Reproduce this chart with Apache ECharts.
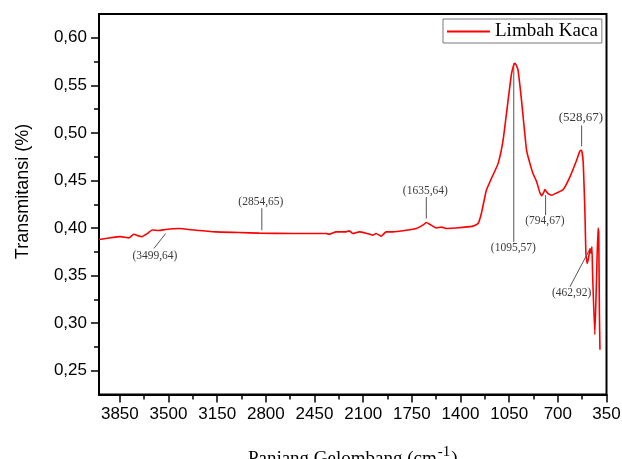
<!DOCTYPE html>
<html>
<head>
<meta charset="utf-8">
<script src="https://cdn.jsdelivr.net/npm/echarts@6/dist/echarts.min.js"></script>
<style>
html,body{margin:0;padding:0;background:#fff;}
#chart{width:622px;height:459px;}
</style>
</head>
<body>
<div id="chart"></div>
<script>
// ---- Data ----
const seriesName = 'Limbah Kaca';
const wavenumber = [
  4000, 3930, 3845, 3785, 3750, 3713, 3690, 3653, 3617, 3569, 3521, 3425, 3305, 3160,
  2992, 2848, 2600, 2367, 2343, 2295, 2223, 2199, 2175, 2127, 2079, 2031, 2007, 1971,
  1935, 1887, 1790, 1718, 1671, 1646, 1622, 1574, 1538, 1502, 1430, 1310, 1274, 1250,
  1214, 1178, 1130, 1094, 1058, 1033, 1018, 1010, 1000, 986, 961, 925, 901, 878, 853,
  829, 815, 800, 793, 780, 770, 745, 709, 661, 613, 565, 541, 529, 517, 505, 498, 488,
  478, 469, 462, 455, 450, 434, 422, 411, 406, 401, 397
];
const transmittance = [
  0.388, 0.3896, 0.391, 0.3896, 0.3935, 0.3917, 0.391, 0.3942, 0.398, 0.3974, 0.3985, 0.3995, 0.3977, 0.396,
  0.3953, 0.3946, 0.3942, 0.3942, 0.3935, 0.396, 0.396, 0.397, 0.3942, 0.396, 0.3946, 0.3925, 0.3942, 0.3914,
  0.396, 0.396, 0.3977, 0.3995, 0.403, 0.4058, 0.404, 0.400, 0.401, 0.3995, 0.400, 0.402, 0.4047, 0.4153,
  0.4397, 0.452, 0.4677, 0.4922, 0.534, 0.5622, 0.5712, 0.5733, 0.5715, 0.5657, 0.534, 0.4817, 0.468, 0.457, 0.449,
  0.437, 0.434, 0.438, 0.4404, 0.438, 0.4362, 0.4345, 0.4369, 0.4404, 0.4537, 0.4712, 0.481, 0.4817, 0.4677, 0.4152, 0.3733, 0.3627,
  0.3697, 0.3785, 0.3733, 0.3802, 0.352, 0.288, 0.345, 0.400, 0.396, 0.310, 0.272
];
const xTickValues = [350, 700, 1050, 1400, 1750, 2100, 2450, 2800, 3150, 3500, 3850];
const xMinorTickValues = [525, 875, 1225, 1575, 1925, 2275, 2625, 2975, 3325, 3675];
const yTickValues = [0.25, 0.30, 0.35, 0.40, 0.45, 0.50, 0.55, 0.60];
const yMinorTickValues = [0.275, 0.325, 0.375, 0.425, 0.475, 0.525, 0.575];

// peak annotations: text, leader line start (x,y), leader line end (x,y), text centre (x,y) in data units
const peakLabels = ['(3499,64)', '(2854,65)', '(1635,64)', '(1095,57)', '(794,67)', '(528,67)', '(462,92)'];
const peakLineStartX = [3521, 2829, 1646, 1017, 788, 529, 474];
const peakLineStartY = [0.3942, 0.3977, 0.410, 0.5733, 0.4345, 0.4859, 0.3767];
const peakLineEndX = [3605, 2829, 1646, 1017, 788, 529, 613];
const peakLineEndY = [0.3785, 0.4208, 0.4327, 0.3854, 0.4135, 0.5079, 0.3382];
const peakTextX = [3598, 2836, 1653, 1020, 793, 534, 601];
const peakTextY = [0.3704, 0.4274, 0.4390, 0.3791, 0.4072, 0.516, 0.3319];

// ---- Build ----
const lineData = wavenumber.map((w, i) => [w, transmittance[i]]);
const annData = peakLabels.map((t, i) => [peakLineStartX[i], peakLineStartY[i], peakLineEndX[i], peakLineEndY[i], peakTextX[i], peakTextY[i]]);

const fmtY = v => v.toFixed(2).replace('.', ',');
const fmtX = v => String(Math.round(v));
const axisFont = 'Liberation Sans';
const serif = 'Liberation Serif';

const chart = echarts.init(document.getElementById('chart'), null, {renderer: 'canvas'});
chart.setOption({
  animation: false,
  backgroundColor: '#fff',
  grid: {
    left: 99, right: 15.5, top: 14, bottom: 64.5,
    show: true, borderColor: '#000', borderWidth: 2, backgroundColor: 'transparent',
    containLabel: false, outerBoundsMode: 'none'
  },
  legend: {
    data: [seriesName],
    left: 443, top: 19,
    orient: 'horizontal',
    backgroundColor: '#fff',
    borderColor: '#7a7a7a', borderWidth: 1, borderRadius: 0,
    padding: [3, 4, 2, 4],
    icon: 'rect', itemWidth: 43, itemHeight: 2,
    textStyle: {fontFamily: serif, fontSize: 19, color: '#000', padding: [0, 0, 0, 0]}
  },
  xAxis: [{
    type: 'value', min: 350, max: 4000, inverse: true, position: 'bottom',
    axisLine: {show: true, onZero: false, lineStyle: {color: '#000', width: 2}},
    axisTick: {show: true, customValues: xTickValues, length: 8, lineStyle: {color: '#000', width: 1.5}},
    axisLabel: {customValues: xTickValues, formatter: fmtX, fontFamily: axisFont, fontSize: 17, color: '#000', margin: 11},
    splitLine: {show: false},
    name: '{a|Panjang Gelombang (cm}{s|-1}{a|)}',
    nameLocation: 'middle', nameGap: 50,
    nameTextStyle: {
      rich: {
        a: {fontFamily: serif, fontSize: 19, color: '#000', lineHeight: 24, verticalAlign: 'bottom'},
        s: {fontFamily: serif, fontSize: 15, color: '#000', lineHeight: 24, verticalAlign: 'top', padding: [0, 1, 0, 1]}
      }
    }
  }, {
    type: 'value', min: 350, max: 4000, inverse: true, position: 'bottom',
    axisLine: {show: false},
    axisTick: {show: true, customValues: xMinorTickValues, length: 5, lineStyle: {color: '#000', width: 1.5}},
    axisLabel: {show: false},
    splitLine: {show: false}
  }],
  yAxis: [{
    type: 'value', min: 0.225, max: 0.625, position: 'left',
    axisLine: {show: true, onZero: false, lineStyle: {color: '#000', width: 2}},
    axisTick: {show: true, customValues: yTickValues, length: 8, lineStyle: {color: '#000', width: 1.5}},
    axisLabel: {customValues: yTickValues, formatter: fmtY, fontFamily: axisFont, fontSize: 17, color: '#000', margin: 12},
    splitLine: {show: false}
  }, {
    type: 'value', min: 0.225, max: 0.625, position: 'left',
    axisLine: {show: false},
    axisTick: {show: true, customValues: yMinorTickValues, length: 5, lineStyle: {color: '#000', width: 1.5}},
    axisLabel: {show: false},
    splitLine: {show: false}
  }],
  graphic: [{
    type: 'text', x: 23, y: 191.5, rotation: Math.PI / 2,
    style: {text: 'Transmitansi (%)', font: '18px "Liberation Sans"', fill: '#000', textAlign: 'center', textVerticalAlign: 'middle'}
  }],
  series: [{
    name: seriesName, type: 'line', xAxisIndex: 0, yAxisIndex: 0,
    data: lineData, showSymbol: false, symbol: 'none', smooth: 0.15,
    lineStyle: {color: '#ff0000', width: 1.6}, itemStyle: {color: '#ff0000'}, z: 3
  }, {
    name: 'annotations', type: 'custom', xAxisIndex: 0, yAxisIndex: 0,
    data: annData, z: 4, silent: true,
    renderItem: function (params, api) {
      const i = params.dataIndex;
      const p0 = api.coord([api.value(0), api.value(1)]);
      const p1 = api.coord([api.value(2), api.value(3)]);
      const pt = api.coord([api.value(4), api.value(5)]);
      const fs = peakLabels[i] === '(528,67)' ? 13 : 11.5;
      return {
        type: 'group',
        children: [
          {type: 'line', shape: {x1: p0[0], y1: p0[1], x2: p1[0], y2: p1[1]}, style: {stroke: '#555', lineWidth: 1}},
          {type: 'text', x: pt[0], y: pt[1], style: {text: peakLabels[i], font: fs + 'px "Liberation Serif"', fill: '#3a3a3a', textAlign: 'center', textVerticalAlign: 'middle'}}
        ]
      };
    }
  }]
});
</script>
</body>
</html>
